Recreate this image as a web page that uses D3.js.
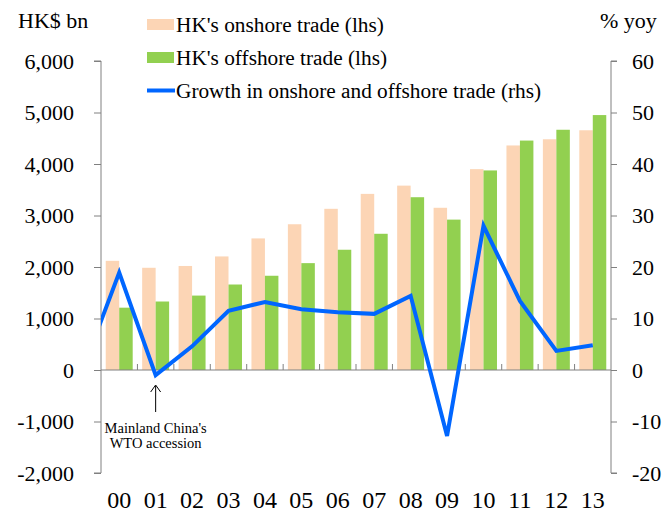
<!DOCTYPE html>
<meta charset="utf-8">
<script src="https://d3js.org/d3.v7.min.js"></script>
<style>
  body { margin: 0; background: #fff; }
  svg text { font-family: "Liberation Serif", "Times New Roman", serif; fill: #000; }
</style>
<div id="chart"></div>
<script>

// data
var years = ["00","01","02","03","04","05","06","07","08","09","10","11","12","13"];
var onshore  = [2120, 1985, 2020, 2205, 2555, 2830, 3130, 3420, 3580, 3150, 3900, 4360, 4480, 4655];
var offshore = [1210, 1330, 1445, 1660, 1830, 2075, 2335, 2645, 3355, 2920, 3875, 4455, 4665, 4950];
var growth   = [18.9, -1.0, 4.6, 11.5, 13.2, 11.8, 11.2, 10.9, 14.4, -12.8, 28.0, 13.4, 3.7, 4.8];
var growth99 = 0.1;   // previous year, only the clipped start of the line shows
var leftTicks  = [-2000, -1000, 0, 1000, 2000, 3000, 4000, 5000, 6000];
var rightTicks = [-20, -10, 0, 10, 20, 30, 40, 50, 60];

var width = 663, height = 512;
var plot = {left: 101, right: 611, top: 61, bottom: 473};

var svg = d3.select("#chart").append("svg")
    .attr("width", width)
    .attr("height", height);

var x = d3.scaleBand()
    .domain(years)
    .range([plot.left, plot.right])
    .paddingInner(0.26)
    .paddingOuter(0.13);

var xs = d3.scaleBand()
    .domain(["on", "off"])
    .range([0, x.bandwidth()]);

var yL = d3.scaleLinear().domain([-2000, 6000]).range([plot.bottom, plot.top]);
var yR = d3.scaleLinear().domain([-20, 60]).range([plot.bottom, plot.top]);

var step = (plot.right - plot.left) / years.length;
var cx = function(i) { return plot.left + step * (i + 0.5); };

// bars
var groups = svg.append("g").selectAll("g")
    .data(years)
  .enter().append("g")
    .attr("transform", function(d) { return "translate(" + x(d) + ",0)"; });

groups.append("rect")
    .attr("x", xs("on"))
    .attr("width", xs.bandwidth())
    .attr("y", function(d, i) { return yL(onshore[i]); })
    .attr("height", function(d, i) { return yL(0) - yL(onshore[i]); })
    .attr("fill", "#fcd5b5");

groups.append("rect")
    .attr("x", xs("off"))
    .attr("width", xs.bandwidth())
    .attr("y", function(d, i) { return yL(offshore[i]); })
    .attr("height", function(d, i) { return yL(0) - yL(offshore[i]); })
    .attr("fill", "#92d050");

// axes
var grey = "#808080";
var hyphen = function(f) { return function(d) { return f(d).replace("\u2212", "-"); }; };

var axL = svg.append("g")
    .attr("transform", "translate(" + plot.left + ",0)")
    .call(d3.axisLeft(yL).tickValues(leftTicks).tickSize(7).tickPadding(20)
      .tickFormat(hyphen(d3.format(","))));
var axR = svg.append("g")
    .attr("transform", "translate(" + plot.right + ",0)")
    .call(d3.axisRight(yR).tickValues(rightTicks).tickSize(6).tickPadding(15)
      .tickFormat(hyphen(d3.format("d"))));

[axL, axR].forEach(function(a) {
  var s = a === axL ? -7 : 6;
  a.attr("font-family", "Liberation Serif").attr("font-size", 22);
  a.select(".domain").attr("stroke", grey)
    .attr("d", "M" + s + "," + plot.bottom + "H0V" + plot.top + "H" + s);
  a.selectAll(".tick line").attr("stroke", grey);
  a.selectAll(".tick text").attr("fill", "#000");
});

// x axis along zero
var xAxis = svg.append("g").attr("transform", "translate(0," + yL(0) + ")");
xAxis.append("line")
    .attr("x1", plot.left).attr("x2", plot.right)
    .attr("stroke", grey);
xAxis.selectAll(".xt")
    .data(years.slice(1))
  .enter().append("line")
    .attr("x1", function(d) { return x(d) - x.step() * x.paddingInner() / 2; })
    .attr("x2", function(d) { return x(d) - x.step() * x.paddingInner() / 2; })
    .attr("y1", -6).attr("y2", 0)
    .attr("stroke", grey);

svg.append("g").selectAll("text")
    .data(years)
  .enter().append("text")
    .attr("x", function(d, i) { return cx(i); })
    .attr("y", 508)
    .attr("text-anchor", "middle")
    .style("font-size", "24px")
    .text(function(d) { return d; });

// growth line, clipped at the left axis
svg.append("clipPath").attr("id", "clip")
  .append("rect")
    .attr("x", plot.left).attr("y", 0)
    .attr("width", plot.right - plot.left).attr("height", height);

var pts = [[cx(-1), growth99]].concat(growth.map(function(v, i) { return [cx(i), v]; }));
svg.append("path")
    .datum(pts)
    .attr("clip-path", "url(#clip)")
    .attr("fill", "none")
    .attr("stroke", "#0066ff")
    .attr("stroke-width", 4)
    .attr("d", d3.line().x(function(d) { return d[0]; }).y(function(d) { return yR(d[1]); }));

// annotation
var ax = cx(1);
svg.append("line")
    .attr("x1", ax).attr("x2", ax)
    .attr("y1", 386).attr("y2", 412)
    .attr("stroke", "#000").attr("stroke-width", 1);
svg.append("path")
    .attr("d", "M" + (ax - 5) + ",392L" + ax + ",385L" + (ax + 5) + ",392")
    .attr("fill", "none").attr("stroke", "#000");
svg.append("text")
    .attr("x", ax).attr("y", 433)
    .attr("text-anchor", "middle")
    .style("font-size", "14.5px")
    .text("Mainland China's");
svg.append("text")
    .attr("x", ax).attr("y", 448)
    .attr("text-anchor", "middle")
    .style("font-size", "14.5px")
    .text("WTO accession");

// unit labels
svg.append("text").attr("x", 18).attr("y", 28).style("font-size", "22px").text("HK$ bn");
svg.append("text").attr("x", 600).attr("y", 28).style("font-size", "22px").text("% yoy");

// legend
var legend = [
  {label: "HK's onshore trade (lhs)", type: "bar", color: "#fcd5b5"},
  {label: "HK's offshore trade (lhs)", type: "bar", color: "#92d050"},
  {label: "Growth in onshore and offshore trade (rhs)", type: "line", color: "#0066ff"}
];
var lg = svg.append("g").selectAll("g")
    .data(legend)
  .enter().append("g")
    .attr("transform", function(d, i) { return "translate(147," + (24.5 + i * 33) + ")"; });
lg.filter(function(d) { return d.type === "bar"; }).append("rect")
    .attr("x", 0).attr("y", -5.5).attr("width", 27).attr("height", 11)
    .attr("fill", function(d) { return d.color; });
lg.filter(function(d) { return d.type === "line"; }).append("line")
    .attr("x1", 0).attr("x2", 28).attr("y1", 0).attr("y2", 0)
    .attr("stroke", function(d) { return d.color; }).attr("stroke-width", 4);
lg.append("text")
    .attr("x", 29).attr("y", 7.5)
    .style("font-size", "21.3px")
    .text(function(d) { return d.label; });

</script>
